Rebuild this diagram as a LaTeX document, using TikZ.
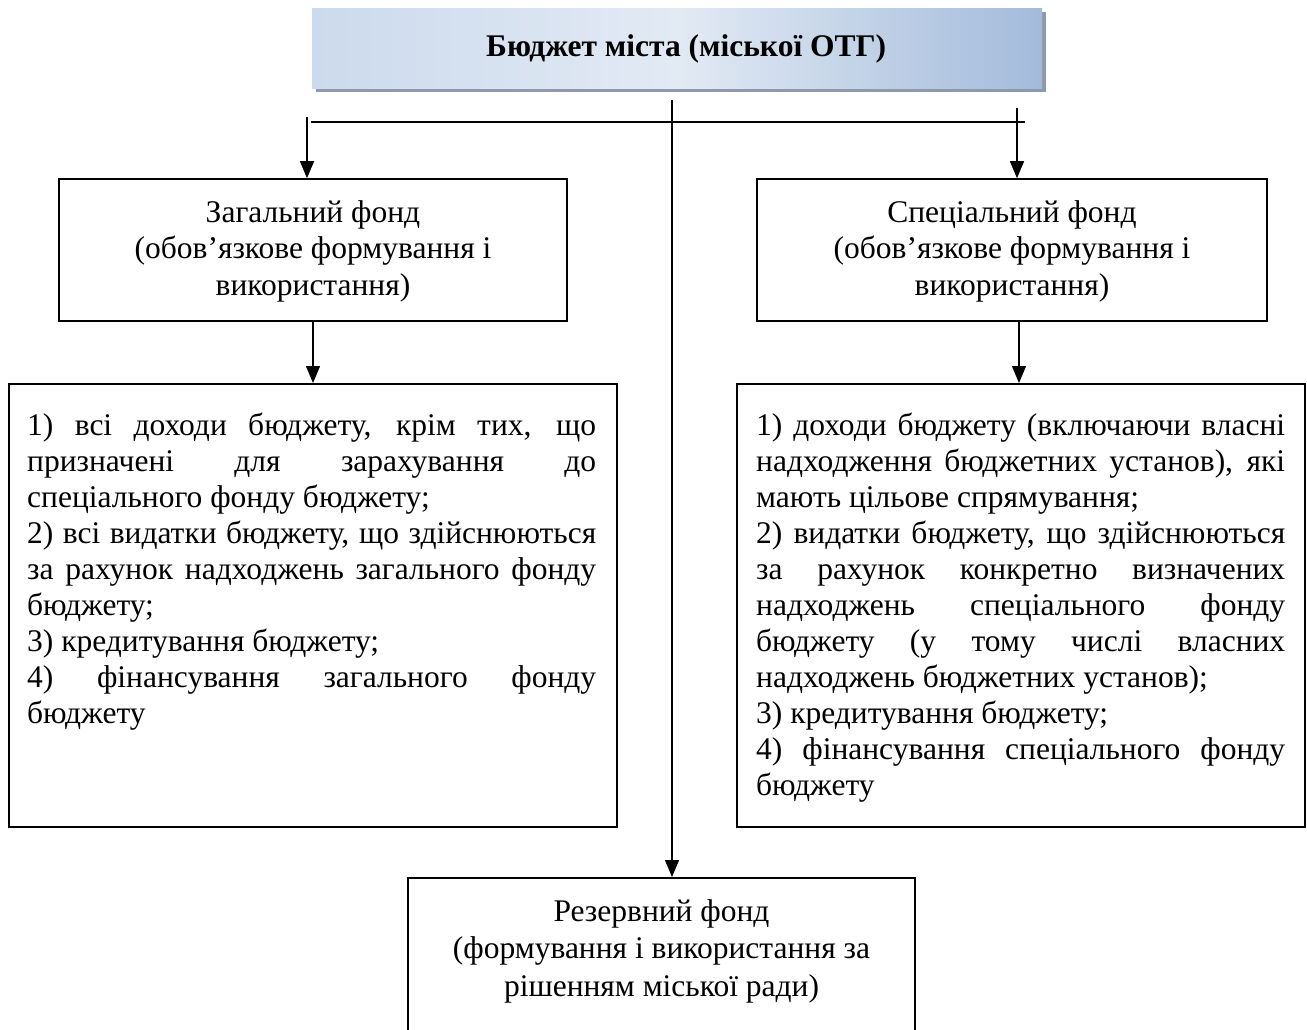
\documentclass[tikz,border=0pt]{standalone}
\usepackage{fontspec}
\setmainfont{Liberation Serif}
\usetikzlibrary{arrows.meta,shadows}
\definecolor{tbA}{HTML}{CCDAED}
\definecolor{tbB}{HTML}{E2EAF4}
\definecolor{tbC}{HTML}{A3BBDB}
\definecolor{shadowc}{HTML}{8E99AB}
\newcommand{\normsp}{\spaceskip=0pt\relax\xspaceskip=0pt\relax}
\newcommand{\jleft}[1]{\makebox[569pt][s]{\normsp#1}}
\newcommand{\jright}[1]{\makebox[529pt][s]{\normsp#1}}
\hyphenpenalty=10000
\exhyphenpenalty=10000
\begin{document}
\begin{tikzpicture}[x=1pt,y=-1pt,
  box/.style={draw=black, line width=1.6pt, inner sep=0pt},
  topbox/.style={inner sep=0pt, left color=tbA, right color=tbC, middle color=tbB,
    general shadow={fill=shadowc, shadow xshift=4pt, shadow yshift=-4pt}},
  con/.style={line width=1.3pt},
  arr/.style={con, -{Triangle[length=17pt,width=14pt]}},
  bodytext/.style={inner sep=0pt, align=left, font=\fontsize{31.5}{36}\selectfont},
  centext/.style={inner sep=0pt, align=center, font=\fontsize{31.5}{36.5}\selectfont}
  ]
\useasboundingbox (0,0) rectangle (1307,1029);
\clip (0,0) rectangle (1307,1029);

% top box
\node[topbox, minimum width=730pt, minimum height=80pt, anchor=north west] (top) at (312,8) {};
\node[font=\fontsize{31.5}{36}\selectfont\bfseries, inner sep=0pt] (topt) at ([xshift=9pt,yshift=-1pt]top.center) {Бюджет міста (міської ОТГ)};

% fund boxes
\node[box, minimum width=508pt, minimum height=142pt] (fundL) at (313,250) {};
\node[centext] (fundLt) at ([yshift=-1pt]fundL.center) {\normsp Загальний фонд\\(обов’язкове формування і\\використання)};
\node[box, minimum width=510pt, minimum height=142pt] (fundR) at (1012,250) {};
\node[centext] (fundRt) at ([yshift=-1pt]fundR.center) {\normsp Спеціальний фонд\\(обов’язкове формування і\\використання)};

% big boxes
\node[box, minimum width=608pt, minimum height=443pt, anchor=north west] (genL) at (8,383) {};
\node[bodytext, text width=569pt, anchor=north west] (genLt) at (27,410.5) {\normsp
\jleft{\strut 1) всі доходи бюджету, крім тих, що}\\
\jleft{призначені для зарахування до}\\
спеціального фонду бюджету;\\
\jleft{2) всі видатки бюджету, що здійснюються}\\
\jleft{за рахунок надходжень загального фонду}\\
бюджету;\\
3) кредитування бюджету;\\
\jleft{4) фінансування загального фонду}\\
бюджету};

\node[box, minimum width=568pt, minimum height=443pt, anchor=north west] (genR) at (736,383) {};
\node[bodytext, text width=529pt, anchor=north west] (genRt) at (756,410.5) {\normsp
\jright{\strut 1) доходи бюджету (включаючи власні}\\
\jright{надходження бюджетних установ), які}\\
мають цільове спрямування;\\
\jright{2) видатки бюджету, що здійснюються}\\
\jright{за рахунок конкретно визначених}\\
\jright{надходжень спеціального фонду}\\
\jright{бюджету (у тому числі власних}\\
надходжень бюджетних установ);\\
3) кредитування бюджету;\\
\jright{4) фінансування спеціального фонду}\\
бюджету};

% reserve box
\node[box, minimum width=507pt, minimum height=170pt, anchor=north] (res) at (661.5,877) {};
\node[centext, font=\fontsize{31.5}{37.5}\selectfont, anchor=north] (rest) at (661.5,895) {\normsp\strut Резервний фонд\\(формування і використання за\\рішенням міської ради)};

% connectors
\coordinate (hL) at (311,122);
\coordinate (hR) at (1025,122);
\draw[con] (hL) -- (hR);
\coordinate (cT) at (672,100);
\draw[arr] (cT) -- (cT |- res.north);
\coordinate (lT) at (307,117);
\draw[arr] (lT) -- (lT |- fundL.north);
\coordinate (rT) at (1017,108);
\draw[arr] (rT) -- (rT |- fundR.north);
\draw[arr] (fundL.south) -- (fundL.south |- genL.north);
\draw[arr] ([xshift=7pt]fundR.south) -- ([xshift=7pt]fundR.south |- genR.north);
\end{tikzpicture}
\end{document}
